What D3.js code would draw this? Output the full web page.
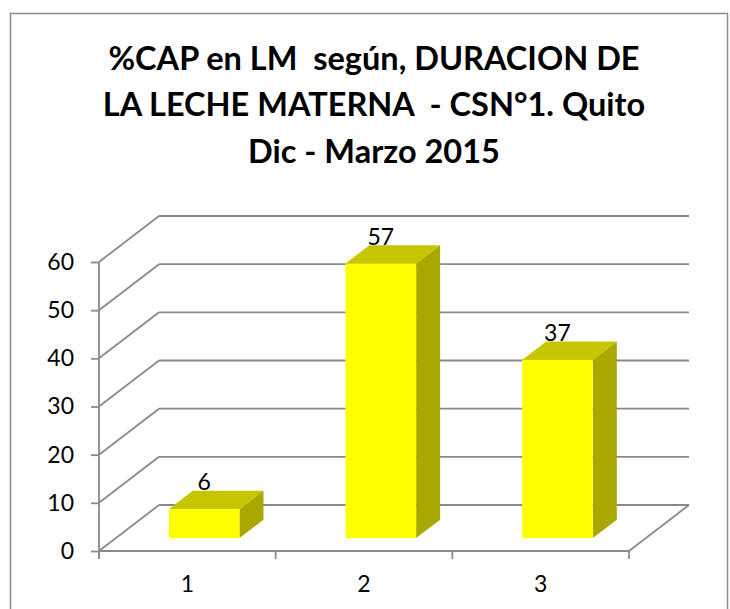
<!DOCTYPE html>
<html>
<head>
<meta charset="utf-8">
<script src="https://cdn.jsdelivr.net/npm/d3@7/dist/d3.min.js"></script>
<style>
  html, body { margin: 0; padding: 0; background: #fff; }
  svg { display: block; }
  text { font-family: Lato, "Open Sans", sans-serif; fill: #000; }
</style>
</head>
<body>
<svg id="chart" width="730" height="609"></svg>
<script>
// ---- data ----
const categories = ["1", "2", "3"];
const values = [6, 57, 37];
const yTicks = [0, 10, 20, 30, 40, 50, 60];
const titleLines = [
  "%CAP en LM  según, DURACION DE",
  "LA LECHE MATERNA  - CSN°1. Quito",
  "Dic - Marzo 2015"
];

// ---- layout ----
const plotLeft = 99, plotRight = 629, plotBottom = 551, plotTop = 262;
const DX = 60, DY = -46;           // depth of the 3D box
const f0 = 0.28, f1 = 0.68;        // bar depth position (fraction of depth)
const gridColor = "#8a8a8a";
const labelSize = "23px";

const svg = d3.select("#chart");

// chart border
svg.append("rect")
  .attr("x", 10.5).attr("y", 13.5)
  .attr("width", 717).attr("height", 620)
  .attr("fill", "none").attr("stroke", "#8c8c8c").attr("stroke-width", 1.5);

// title
svg.append("g").selectAll("text").data(titleLines).join("text")
  .attr("x", 374)
  .attr("y", (d, i) => 69.5 + i * 46.5)
  .attr("text-anchor", "middle")
  .style("font-weight", "bold")
  .style("font-size", "32.5px")
  .style("white-space", "pre")
  .attr("xml:space", "preserve")
  .text(d => d);

// scales
const y = d3.scaleLinear().domain([0, 60]).range([plotBottom, plotTop]);
const xAxisScale = d3.scaleBand().domain(categories).range([plotLeft, plotRight]).padding(0);
const xBar = d3.scaleBand().domain(categories).range([plotLeft, plotRight])
  .paddingInner(0.6).paddingOuter(0.3);

// back wall gridlines + left wall diagonals
const grid = svg.append("g").attr("stroke", gridColor).attr("stroke-width", 1.8).attr("fill", "none");
grid.selectAll("line.back").data(yTicks).join("line")
  .attr("class", "back")
  .attr("x1", plotLeft + DX).attr("x2", plotRight + DX)
  .attr("y1", d => y(d) + DY).attr("y2", d => y(d) + DY);
grid.selectAll("line.diag").data(yTicks).join("line")
  .attr("class", "diag")
  .attr("x1", plotLeft).attr("x2", plotLeft + DX)
  .attr("y1", d => y(d)).attr("y2", d => y(d) + DY);
grid.append("line")
  .attr("x1", plotRight).attr("y1", y(0))
  .attr("x2", plotRight + DX).attr("y2", y(0) + DY);

// y axis
const yAxis = d3.axisLeft(y).tickValues(yTicks).tickSize(8).tickPadding(17);
const gy = svg.append("g").attr("transform", `translate(${plotLeft},0)`).call(yAxis);
gy.select(".domain").attr("stroke", gridColor).attr("stroke-width", 1.8)
  .attr("d", `M0,${y(60)}V${y(0) + 7}`);
gy.selectAll(".tick line").attr("stroke", gridColor).attr("stroke-width", 1.8);
gy.selectAll(".tick text").style("font-size", labelSize).style("font-family", "Lato, sans-serif").attr("fill", "#000");

// x axis
const xAxis = d3.axisBottom(xAxisScale).tickSize(0).tickPadding(25);
const gx = svg.append("g").attr("transform", `translate(0,${plotBottom})`).call(xAxis);
gx.select(".domain").attr("stroke", gridColor).attr("stroke-width", 1.8)
  .attr("d", `M${plotLeft},0H${plotRight}`);
gx.selectAll(".tick text").style("font-size", labelSize).style("font-family", "Lato, sans-serif").attr("fill", "#000");
const xTickPos = categories.map(c => xAxisScale(c)).concat([plotRight]);
gx.selectAll("line.xt").data(xTickPos).join("line")
  .attr("class", "xt")
  .attr("x1", d => d).attr("x2", d => d)
  .attr("y1", 0).attr("y2", 8)
  .attr("stroke", gridColor).attr("stroke-width", 1.8);

// bars
const ox0 = f0 * DX, oy0 = f0 * DY;
const ox1 = f1 * DX, oy1 = f1 * DY;
const bars = svg.append("g");
categories.forEach((c, i) => {
  const v = values[i];
  const x0 = xBar(c) + ox0, x1 = x0 + xBar.bandwidth();
  const yb = y(0) + oy0, yt = y(v) + oy0;
  const ddx = ox1 - ox0, ddy = oy1 - oy0;
  bars.append("path")
    .attr("d", `M${x1},${yt}L${x1 + ddx},${yt + ddy}L${x1 + ddx},${yb + ddy}L${x1},${yb}Z`)
    .attr("fill", "#a8a800");
  bars.append("path")
    .attr("d", `M${x0},${yt}L${x0 + ddx},${yt + ddy}L${x1 + ddx},${yt + ddy}L${x1},${yt}Z`)
    .attr("fill", "#c6c600");
  bars.append("rect")
    .attr("x", x0).attr("y", yt)
    .attr("width", xBar.bandwidth()).attr("height", yb - yt)
    .attr("fill", "#ffff00");
  bars.append("text")
    .attr("x", (x0 + x1) / 2)
    .attr("y", yt + ddy - 0.5)
    .attr("text-anchor", "middle")
    .style("font-size", labelSize)
    .text(v);
});
</script>
</body>
</html>
